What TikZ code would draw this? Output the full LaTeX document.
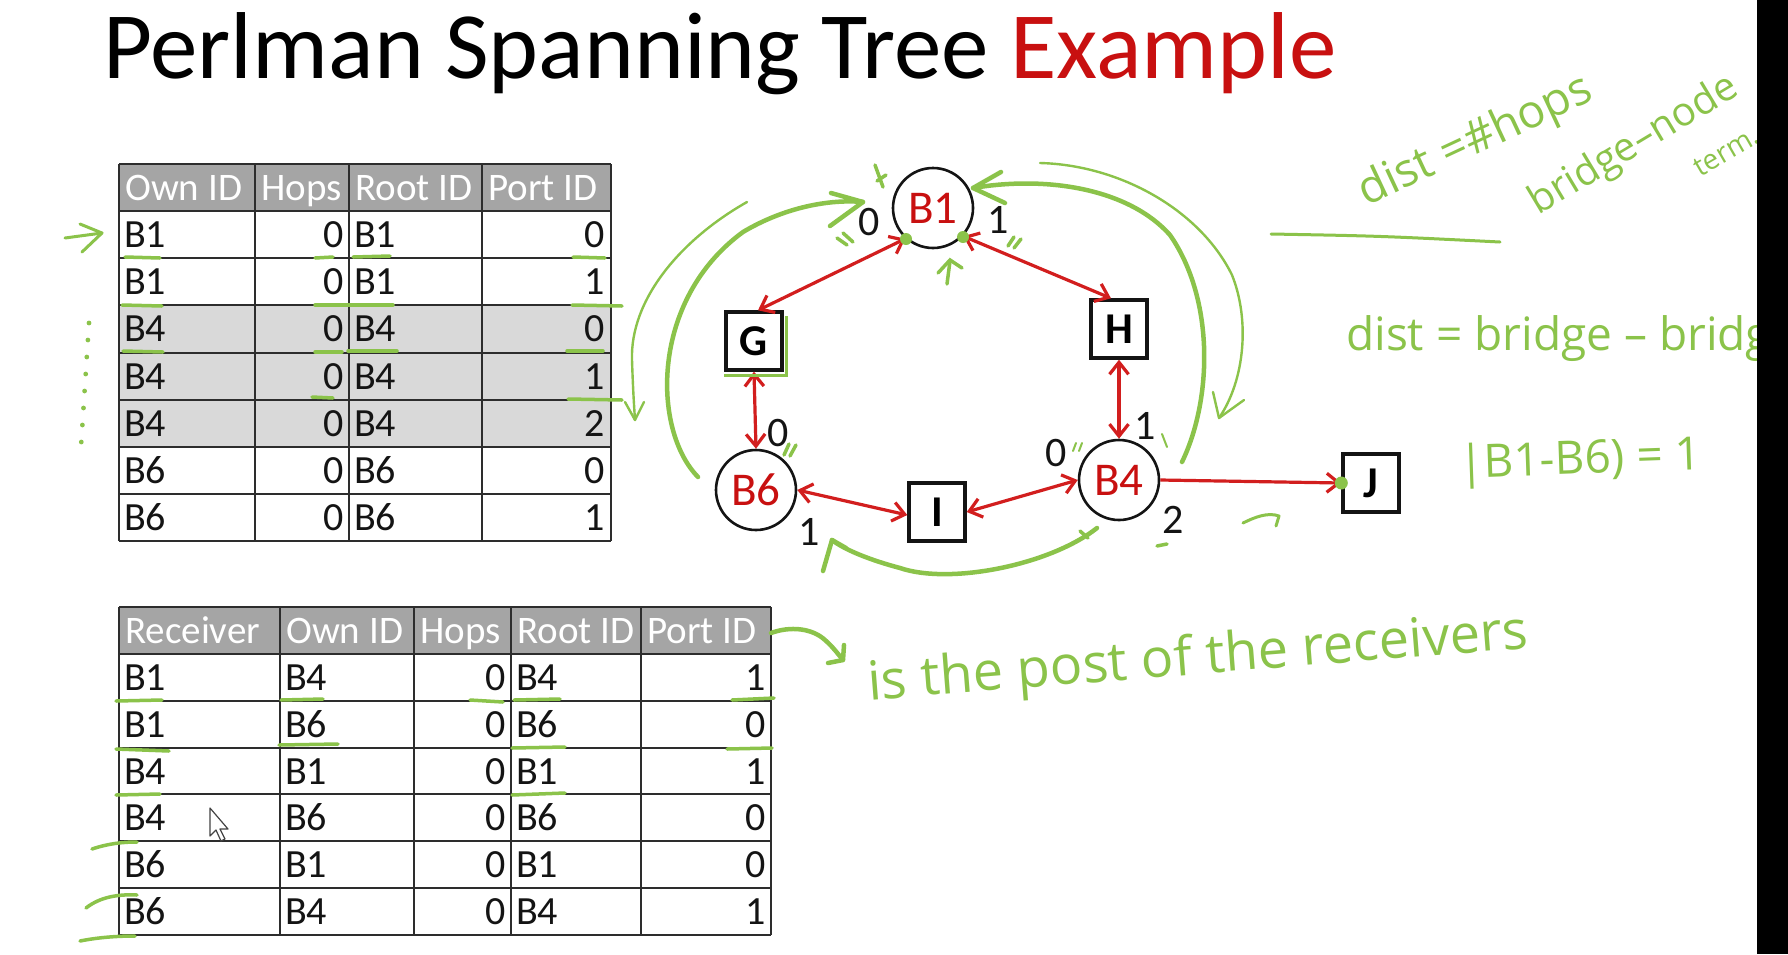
\documentclass[tikz,border=0pt]{standalone}
\usepackage{fontspec}
\setmainfont{Carlito}
\newfontfamily\handfont{Open Sans}
\usetikzlibrary{arrows.meta,calc}

\definecolor{titlered}{RGB}{200,16,16}
\definecolor{linkred}{RGB}{210,30,30}
\definecolor{pen}{RGB}{139,195,74}
\definecolor{headgray}{RGB}{165,165,165}
\definecolor{rowgray}{RGB}{217,217,217}
\definecolor{rule}{RGB}{45,45,45}
\definecolor{ink}{RGB}{20,20,20}

\tikzset{
  cell/.style={inner sep=0pt, text=ink, font=\fontsize{40}{40}\selectfont},
  headcell/.style={inner sep=0pt, text=white, font=\fontsize{39}{39}\selectfont},
  grid/.style={draw=rule, line width=2pt},
  bridge/.style={circle, draw=ink, line width=2.6pt, minimum size=80pt, inner sep=0pt,
    text=titlered, font=\fontsize{47}{47}\selectfont, fill=white},
  station/.style={rectangle, draw=ink, line width=3.4pt, minimum width=56pt, minimum height=58pt,
    inner sep=0pt, font=\bfseries\fontsize{44}{44}\selectfont, fill=white},
  port/.style={inner sep=0pt, text=ink, font=\fontsize{42}{42}\selectfont},
  link/.style={draw=linkred, line width=3.2pt,
    {Straight Barb[length=12pt,width=19pt]}-{Straight Barb[length=12pt,width=19pt]}},
  onelink/.style={draw=linkred, line width=3.2pt, -{Straight Barb[length=12pt,width=19pt]}},
  penthick/.style={draw=pen, line width=4.5pt, line cap=round, line join=round},
  penthin/.style={draw=pen, line width=2.4pt, line cap=round, line join=round},
  penmark/.style={draw=pen, line width=3.5pt, line cap=round},
  hand/.style={text=pen, inner sep=0pt, font=\handfont\fontsize{46}{46}\selectfont},
}

\begin{document}
\begin{tikzpicture}[x=1pt,y=-1pt]
\useasboundingbox (0,0) rectangle (1788,954);
\fill[white] (0,0) rectangle (1788,954);

% title
\node[inner sep=0pt, anchor=base west, font=\fontsize{95}{95}\selectfont, text=black] (title)
  at (103,78) {Perlman Spanning Tree \textcolor{titlered}{Example}};

% ---------- first table: own hello messages ----------
\fill[headgray] (119,164) rectangle (611,211.125);
\fill[rowgray] (119,305.375) rectangle (611,446.75);
\foreach \yy in {164,211.125,258.25,305.375,352.5,399.625,446.75,493.875,541}
  \draw[grid] (119,\yy) -- (611,\yy);
\foreach \xx in {119,255,349,482,611}
  \draw[grid] (\xx,164) -- (\xx,541);
\node[headcell, anchor=base west] (h1a) at (125,200.5) {Own ID};
\node[headcell, anchor=base west] (h1b) at (261,200.5) {Hops};
\node[headcell, anchor=base west] (h1c) at (355,200.5) {Root ID};
\node[headcell, anchor=base west] (h1d) at (488,200.5) {Port ID};
\foreach \a/\b/\c/\d [count=\i] in {B1/0/B1/0, B1/0/B1/1, B4/0/B4/0, B4/0/B4/1, B4/0/B4/2, B6/0/B6/0, B6/0/B6/1} {
  \pgfmathsetmacro{\yb}{211.125+(\i-1)*47.125+23.56+13}
  \node[cell, anchor=base west] (t1-\i-a) at (124,\yb) {\a};
  \node[cell, anchor=base east] (t1-\i-b) at (344,\yb) {\b};
  \node[cell, anchor=base west] (t1-\i-c) at (354,\yb) {\c};
  \node[cell, anchor=base east] (t1-\i-d) at (605,\yb) {\d};
}

% ---------- second table: received hello messages ----------
\fill[headgray] (119,607) rectangle (771,653.86);
\foreach \yy in {607,653.86,700.71,747.57,794.43,841.29,888.14,935}
  \draw[grid] (119,\yy) -- (771,\yy);
\foreach \xx in {119,280,414,511,641,771}
  \draw[grid] (\xx,607) -- (\xx,935);
\node[headcell, anchor=base west] (h2a) at (125,643.4) {Receiver};
\node[headcell, anchor=base west] (h2b) at (286,643.4) {Own ID};
\node[headcell, anchor=base west] (h2c) at (420,643.4) {Hops};
\node[headcell, anchor=base west] (h2d) at (517,643.4) {Root ID};
\node[headcell, anchor=base west] (h2e) at (647,643.4) {Port ID};
\foreach \a/\b/\c/\d/\e [count=\i] in {B1/B4/0/B4/1, B1/B6/0/B6/0, B4/B1/0/B1/1, B4/B6/0/B6/0, B6/B1/0/B1/0, B6/B4/0/B4/1} {
  \pgfmathsetmacro{\yb}{653.86+(\i-1)*46.857+23.43+13}
  \node[cell, anchor=base west] (t2-\i-a) at (124,\yb) {\a};
  \node[cell, anchor=base west] (t2-\i-b) at (285,\yb) {\b};
  \node[cell, anchor=base east] (t2-\i-c) at (506,\yb) {\c};
  \node[cell, anchor=base west] (t2-\i-d) at (516,\yb) {\d};
  \node[cell, anchor=base east] (t2-\i-e) at (766,\yb) {\e};
}

% mouse pointer
\draw[fill=white, draw=ink!80, line width=1.2pt, line join=round]
  (210,808) -- (210,836) -- (216,830) -- (221,841) -- (225,839) -- (220,829) -- (228,829) -- cycle;

% ---------- network ----------
\node[bridge]  (B1) at (933,208) {B1};
\node[bridge]  (B6) at (756,490) {B6};
\node[bridge]  (B4) at (1119,480) {B4};
\node[station] (G)  at (754,341) {G};
\node[station] (H)  at (1119,329) {H};
\node[station] (I)  at (937,512) {I};
\node[station] (J)  at (1371,483) {J};

\draw[link] (B1.228) -- ([xshift=4pt]G.north);
\draw[link] (B1.317) -- ([xshift=-8pt]H.north);
\draw[link] (G.south) -- (B6.north);
\draw[link] (H.south) -- (B4.north);
\draw[link] (B6.east) -- ([yshift=-3pt]I.west);
\draw[link] (I.east) -- (B4.west);
\draw[onelink] (B4.east) -- (J.west);

% port numbers
\node[port] (p10) at (869,222) {0};
\node[port] (p11) at (998,220) {1};
\node[port] (p60) at (778,433) {0};
\node[port] (p61) at (809,532) {1};
\node[port] (p40) at (1056,453) {0};
\node[port] (p41) at (1145,426) {1};
\node[port] (p42) at (1173,520) {2};

% ---------- pen annotations ----------
% arrow pointing at the first row
\draw[penthin, line width=3pt] (65,238) -- (102,233);
\draw[penthin, line width=3pt] (80,224) -- (102,233) -- (82,252);
% dotted guide beside the shaded rows
\foreach \k in {0,...,7} \fill[pen] ({89-\k*1.1},{323+\k*17}) circle (2.4);

% underlines in the first table
\foreach \p/\q/\r/\s in {125/257/160/258, 315/258/333/257, 353/257/390/256, 573/257/605/258,
  122/305/162/306, 315/305/393/305, 572/305/622/306,
  123/351/163/352, 315/352/342/352, 348/351/397/351, 567/351/603/351,
  312/397/333/398, 568/399/622/400}
  \draw[penmark] (\p,\q) -- (\r,\s);
% underlines in the second table
\foreach \p/\q/\r/\s in {116/701/162/700, 281/700/323/699, 470/700/503/702, 514/700/560/699, 732/700/774/698,
  116/749/169/751, 279/745/338/744, 512/748/565/747, 727/749/772/748,
  116/795/160/794, 512/795/565/793}
  \draw[penmark] (\p,\q) -- (\r,\s);
\draw[penmark] (92,849) .. controls (110,843) and (125,842) .. (137,842);
\draw[penmark] (86,908) .. controls (100,897) and (118,894) .. (137,895);
\draw[penmark] (80,941) .. controls (100,937) and (120,936) .. (135,936);

% arrow from the port column to the note
\draw[penthick] (771,633) .. controls (790,626) and (812,628) .. (825,640) .. controls (833,647) and (838,654) .. (843,660);
\draw[penthick] (828,663) -- (843,660) -- (844,645);

% highlight of G
\draw[pen, line width=3pt] (724,375) -- (786,375) -- (786,316);

% thick arc B6 -> B1
\draw[penthick] (698,477) .. controls (652,430) and (650,300) .. (743,232)
  .. controls (785,207) and (830,199) .. (863,202);
\draw[penthick] (831,193) -- (863,202) -- (830,226);
% thin outer arc on the left
\draw[penthin] (747,202) .. controls (680,240) and (630,300) .. (632,360) .. controls (633,390) and (634,405) .. (635,420);
\draw[penthin] (625,402) -- (635,420) -- (644,402);
% thick arc B4 -> B1
\draw[penthick] (1182,462) .. controls (1212,400) and (1215,300) .. (1170,235)
  .. controls (1130,190) and (1050,175) .. (973,188);
\draw[penthick] (1001,172) -- (973,188) -- (1005,203);
% thin outer arc on the right
\draw[penthin] (1040,163) .. controls (1120,165) and (1200,210) .. (1232,275)
  .. controls (1250,320) and (1245,380) .. (1219,418);
\draw[penthin] (1213,392) -- (1219,418) -- (1244,400);
% lower arc B4 -> B6
\draw[penthick] (1097,528) .. controls (1050,565) and (950,585) .. (900,568)
  .. controls (870,560) and (845,550) .. (832,540);
\draw[penthick] (823,571) -- (832,540) -- (846,548);
\draw[penmark] (1080,531) -- (1088,538);

% small marks around the bridges
\draw[penmark] (837,238) -- (847,245);
\draw[penmark] (843,233) -- (853,242);
\draw[penmark] (1008,246) -- (1014,237);
\draw[penmark] (1014,248) -- (1021,239);
\draw[penmark] (784,455) -- (789,444);
\draw[penmark] (790,456) -- (796,445);
\draw[pen, line width=2pt, line cap=round] (1073,451) -- (1076,443);
\draw[pen, line width=2pt, line cap=round] (1079,451) -- (1082,443);
\draw[pen, line width=2pt, line cap=round] (1162,434) -- (1167,447);
\draw[penmark] (1157,546) -- (1167,544);
\draw[penmark] (875,165) -- (883,187);
\draw[penmark] (877,181) -- (886,175);
\draw[penmark] (947,284) -- (950,261);
\draw[penmark] (938,273) -- (950,260) -- (962,268);
% small arrow towards J
\draw[penthin, line width=3pt] (1243,523) .. controls (1255,517) and (1268,512) .. (1279,516) -- (1276,526);

% attachment dots
\fill[pen] (906,239) circle (6);
\fill[pen] (963,237) circle (6);
\fill[pen] (J.west) circle (6.5);

% handwritten notes
\draw[penthin, line width=3pt] (1271,234) .. controls (1380,236) .. (1500,242);
\node[hand, rotate=25] (n1) at (1476,142) {dist =\#hops};
\node[hand, rotate=31, font=\handfont\fontsize{40}{40}\selectfont] (n2) at (1634,146) {bridge–node};
\node[hand, rotate=30, font=\handfont\fontsize{28}{28}\selectfont] (n3) at (1726,152) {term.};
\node[hand, anchor=base west] (n4) at (1346,350) {dist = bridge – bridge};
\node[hand, rotate=2] (n5) at (1580,462) {|B1-B6) = 1};
\node[hand, rotate=4.5, font=\handfont\fontsize{54}{54}\selectfont] (n6) at (1198,660) {is the post of the receivers};

% black strip at the right edge
\fill[black] (1757,0) rectangle (1788,954);
\end{tikzpicture}
\end{document}
